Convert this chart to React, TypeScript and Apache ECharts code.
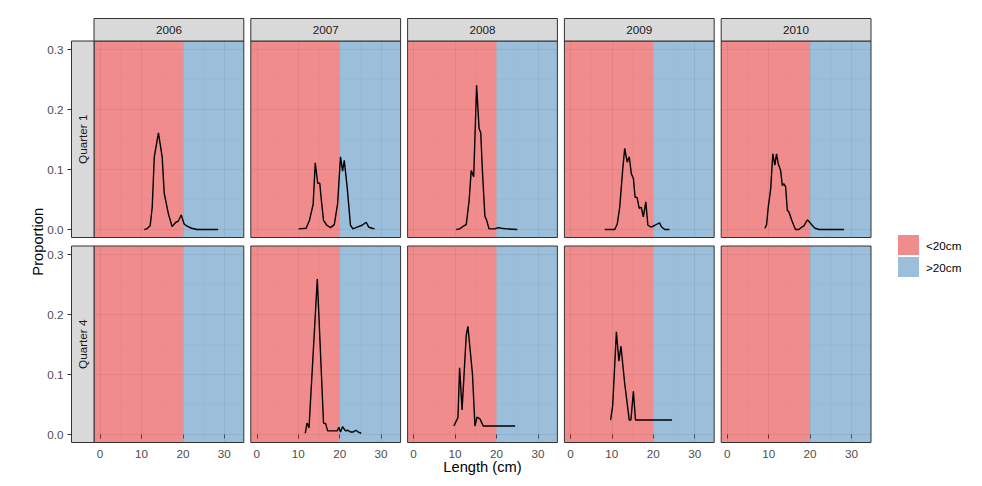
import { useEffect, useRef } from "react";
import * as echarts from "echarts";

// Facet labels
const years = ["2006", "2007", "2008", "2009", "2010"];
const quarters = ["Quarter 1", "Quarter 4"];

// Axis ticks and grid lines
const xTicks = [0, 10, 20, 30];
const xMinor = [5, 15, 25];
const yTicks = [0, 0.1, 0.2, 0.3];
const yMinor = [0.05, 0.15, 0.25];

// Size classes split at 20 cm
const sizeBreak = 20;
const sizeClasses = ["<20cm", ">20cm"];

// Length-frequency proportions: [length (cm), proportion]
const q1_2006 = [
  [10.7, 0], [11.3, 0.001], [12.1, 0.006], [12.6, 0.037], [13.1, 0.121], [14.1, 0.161],
  [15.0, 0.121], [15.5, 0.06], [16.5, 0.026], [17.4, 0.005], [18.3, 0.012], [18.9, 0.014],
  [19.6, 0.024], [20.3, 0.009], [20.9, 0.006], [22.1, 0.002], [23.4, 0], [28.5, 0],
];
const q1_2007 = [
  [10.1, 0.001], [11.9, 0.002], [12.7, 0.015], [13.6, 0.042], [14.1, 0.111], [14.7, 0.077],
  [15.2, 0.077], [15.5, 0.054], [16.1, 0.015], [16.9, 0.007], [17.8, 0.003], [18.7, 0.008],
  [19.5, 0.043], [20.2, 0.121], [20.7, 0.097], [21.1, 0.115], [21.8, 0.071], [22.6, 0.007],
  [23.2, 0.001], [24.2, 0.004], [25.4, 0.007], [26.4, 0.012], [27.0, 0.004], [27.8, 0.002],
  [28.4, 0.001],
];
const q1_2008 = [
  [10.3, 0], [11.1, 0.001], [11.9, 0.005], [12.7, 0.008], [13.4, 0.048], [13.9, 0.098],
  [14.5, 0.088], [15.2, 0.24], [15.8, 0.168], [16.2, 0.161], [16.6, 0.098], [17.2, 0.022],
  [17.6, 0.016], [18.2, 0.001], [19.6, 0.001], [20.4, 0.003], [21.2, 0.002], [22.4, 0.001],
  [25.0, 0],
];
const q1_2009 = [
  [8.3, 0], [10.7, 0], [11.3, 0.009], [11.9, 0.037], [12.6, 0.098], [13.1, 0.135],
  [13.7, 0.112], [14.2, 0.121], [14.7, 0.093], [15.2, 0.085], [15.6, 0.054], [16.1, 0.053],
  [16.6, 0.035], [17.1, 0.037], [17.6, 0.021], [18.2, 0.046], [18.7, 0.007], [19.5, 0.004],
  [20.4, 0.007], [21.5, 0.011], [22.0, 0.004], [22.8, 0], [23.9, 0],
];
const q1_2010 = [
  [9.1, 0.002], [9.5, 0.008], [9.9, 0.037], [10.5, 0.068], [11.0, 0.126], [11.5, 0.107],
  [11.9, 0.126], [12.3, 0.11], [12.9, 0.098], [13.3, 0.073], [13.7, 0.076], [14.1, 0.071],
  [14.5, 0.032], [14.9, 0.029], [15.6, 0.015], [16.1, 0.006], [16.5, 0], [17.3, 0],
  [18.0, 0.004], [18.5, 0.006], [19.0, 0.012], [19.4, 0.016], [19.9, 0.012], [20.6, 0.006],
  [21.2, 0.002], [22.2, 0], [28.2, 0],
];
const q4_2006: number[][] = [];
const q4_2007 = [
  [11.7, 0.002], [12.1, 0.019], [12.6, 0.011], [14.6, 0.259], [16.1, 0.019], [16.6, 0.018],
  [17.1, 0.006], [19.4, 0.006], [19.8, 0.012], [20.2, 0.004], [20.7, 0.013], [21.4, 0.006],
  [22.0, 0.007], [22.6, 0.004], [23.2, 0.004], [23.9, 0.007], [24.5, 0.004], [25.2, 0.002],
];
const q4_2008 = [
  [9.7, 0.014], [10.7, 0.028], [11.1, 0.111], [11.7, 0.041], [12.7, 0.165], [13.1, 0.18],
  [14.2, 0.101], [14.8, 0.014], [15.3, 0.029], [16.0, 0.026], [16.8, 0.014], [24.5, 0.014],
];
const q4_2009 = [
  [9.7, 0.024], [10.2, 0.048], [11.1, 0.171], [11.7, 0.122], [12.2, 0.147], [13.1, 0.085],
  [14.2, 0.024], [14.6, 0.024], [15.2, 0.072], [15.7, 0.024], [24.5, 0.024],
];
const q4_2010: number[][] = [];

const panelData = [
  [q1_2006, q1_2007, q1_2008, q1_2009, q1_2010],
  [q4_2006, q4_2007, q4_2008, q4_2009, q4_2010],
];

// Layout
const FONT = "'Liberation Sans', Arial, sans-serif";
const PANEL_LEFT = 94;
const COL_STEP = 156.8;
const PANEL_W = 149.8;
const ROW_TOPS = [41, 246];
const PANEL_H = 196.5;
const STRIP = 22.5;
const X_MIN = -1.45;
const X_MAX = 34.7;
const Y_MIN = -0.0134;
const Y_MAX = 0.3139;
const RED = "rgba(228,26,28,0.5)";
const BLUE = "rgba(55,126,184,0.5)";
const BORDER = "#333333";
const GRID_MAJOR = "rgba(0,0,0,0.06)";
const GRID_MINOR = "rgba(0,0,0,0.04)";

export default function App() {
  const ref = useRef<HTMLDivElement>(null);

  useEffect(() => {
    if (!ref.current) return;
    const chart = echarts.init(ref.current, null, { renderer: "svg" });

    const grid: any[] = [];
    const xAxis: any[] = [];
    const yAxis: any[] = [];
    const series: any[] = [];
    const graphic: any[] = [];

    const major = { color: GRID_MAJOR, width: 1.1, type: "solid" };
    const minor = { color: GRID_MINOR, width: 0.6, type: "solid" };
    const gridLines = [
      ...xTicks.map((v) => ({ xAxis: v, lineStyle: major })),
      ...xMinor.map((v) => ({ xAxis: v, lineStyle: minor })),
      ...yTicks.map((v) => ({ yAxis: v, lineStyle: major })),
      ...yMinor.map((v) => ({ yAxis: v, lineStyle: minor })),
    ];

    quarters.forEach((quarter, r) => {
      const top = ROW_TOPS[r];
      const bottomRow = r === quarters.length - 1;

      years.forEach((year, c) => {
        const i = grid.length;
        const left = PANEL_LEFT + c * COL_STEP;

        grid.push({ left, top, width: PANEL_W, height: PANEL_H, containLabel: false });

        xAxis.push({
          type: "value",
          gridIndex: i,
          min: X_MIN,
          max: X_MAX,
          axisLine: { show: false },
          splitLine: { show: false },
          axisTick: {
            show: bottomRow,
            customValues: xTicks,
            length: 4,
            lineStyle: { color: BORDER, width: 1 },
          },
          axisLabel: {
            show: bottomRow,
            customValues: xTicks,
            margin: 5,
            color: "#4D4D4D",
            fontSize: 11.7,
            fontFamily: FONT,
          },
        });

        yAxis.push({
          type: "value",
          gridIndex: i,
          min: Y_MIN,
          max: Y_MAX,
          axisLine: { show: false },
          splitLine: { show: false },
          axisTick: { show: false },
          axisLabel: { show: false },
        });

        // Size-class background bands
        series.push({
          name: sizeClasses[0],
          type: "line",
          xAxisIndex: i,
          yAxisIndex: i,
          data: [],
          silent: true,
          itemStyle: { color: RED },
          markArea: {
            silent: true,
            itemStyle: { color: RED },
            data: [[{ xAxis: X_MIN, yAxis: Y_MIN }, { xAxis: sizeBreak, yAxis: Y_MAX }]],
          },
        });
        series.push({
          name: sizeClasses[1],
          type: "line",
          xAxisIndex: i,
          yAxisIndex: i,
          data: [],
          silent: true,
          itemStyle: { color: BLUE },
          markArea: {
            silent: true,
            itemStyle: { color: BLUE },
            data: [[{ xAxis: sizeBreak, yAxis: Y_MIN }, { xAxis: X_MAX, yAxis: Y_MAX }]],
          },
        });

        // Length distribution
        series.push({
          name: `${quarter} ${year}`,
          type: "line",
          xAxisIndex: i,
          yAxisIndex: i,
          data: panelData[r][c],
          showSymbol: false,
          symbol: "none",
          silent: true,
          lineStyle: { color: "#000000", width: 1.4 },
          markLine: {
            silent: true,
            symbol: ["none", "none"],
            label: { show: false },
            lineStyle: { type: "solid" },
            data: gridLines,
          },
        });

        // Panel border
        graphic.push({
          type: "rect",
          z: 100,
          shape: { x: left, y: top, width: PANEL_W, height: PANEL_H },
          style: { fill: "none", stroke: BORDER, lineWidth: 1 },
        });

        // Year strip on top
        if (r === 0) {
          graphic.push({
            type: "rect",
            z: 100,
            shape: { x: left, y: top - STRIP, width: PANEL_W, height: STRIP },
            style: { fill: "#D9D9D9", stroke: BORDER, lineWidth: 1 },
          });
          graphic.push({
            type: "text",
            z: 101,
            x: left + PANEL_W / 2,
            y: top - STRIP / 2,
            style: {
              text: year,
              align: "center",
              verticalAlign: "middle",
              fontSize: 11.7,
              fontFamily: FONT,
              fill: "#1A1A1A",
            },
          });
        }
      });

      // Row scale: a narrow grid holding the Proportion axis left of the quarter strip
      const s = grid.length;
      grid.push({ left: PANEL_LEFT - STRIP, top, width: STRIP, height: PANEL_H, containLabel: false });
      xAxis.push({ type: "value", gridIndex: s, show: false, min: 0, max: 1 });
      yAxis.push({
        type: "value",
        gridIndex: s,
        min: Y_MIN,
        max: Y_MAX,
        axisLine: { show: false },
        splitLine: { show: false },
        axisTick: {
          show: true,
          customValues: yTicks,
          length: 4,
          lineStyle: { color: BORDER, width: 1 },
        },
        axisLabel: {
          show: true,
          customValues: yTicks,
          margin: 8,
          formatter: (v: number) => v.toFixed(1),
          color: "#4D4D4D",
          fontSize: 11.7,
          fontFamily: FONT,
        },
      });

      // Quarter strip on the left
      graphic.push({
        type: "rect",
        z: 100,
        shape: { x: PANEL_LEFT - STRIP, y: top, width: STRIP, height: PANEL_H },
        style: { fill: "#D9D9D9", stroke: BORDER, lineWidth: 1 },
      });
      graphic.push({
        type: "text",
        z: 101,
        x: PANEL_LEFT - STRIP / 2,
        y: top + PANEL_H / 2,
        rotation: Math.PI / 2,
        style: {
          text: quarter,
          align: "center",
          verticalAlign: "middle",
          fontSize: 11.7,
          fontFamily: FONT,
          fill: "#1A1A1A",
        },
      });
    });

    // Axis titles
    graphic.push({
      type: "text",
      x: 37.5,
      y: (ROW_TOPS[0] + ROW_TOPS[1] + PANEL_H) / 2,
      rotation: Math.PI / 2,
      style: {
        text: "Proportion",
        align: "center",
        verticalAlign: "middle",
        fontSize: 14.7,
        fontFamily: FONT,
        fill: "#000000",
      },
    });
    graphic.push({
      type: "text",
      x: PANEL_LEFT + (4 * COL_STEP + PANEL_W) / 2,
      y: 467,
      style: {
        text: "Length (cm)",
        align: "center",
        verticalAlign: "middle",
        fontSize: 14.7,
        fontFamily: FONT,
        fill: "#000000",
      },
    });

    chart.setOption({
      animation: false,
      backgroundColor: "#FFFFFF",
      grid,
      xAxis,
      yAxis,
      series,
      graphic,
      legend: {
        data: sizeClasses,
        orient: "vertical",
        left: 893,
        top: 230,
        icon: "rect",
        itemWidth: 21,
        itemHeight: 20,
        itemGap: 2,
        selectedMode: false,
        textStyle: { fontSize: 11.7, fontFamily: FONT, color: "#000000", padding: [0, 0, 0, 2] },
      },
    });

    return () => chart.dispose();
  }, []);

  return (
    <div
      ref={ref}
      style={{ position: "fixed", left: 0, top: 0, width: 982, height: 486 }}
    />
  );
}
